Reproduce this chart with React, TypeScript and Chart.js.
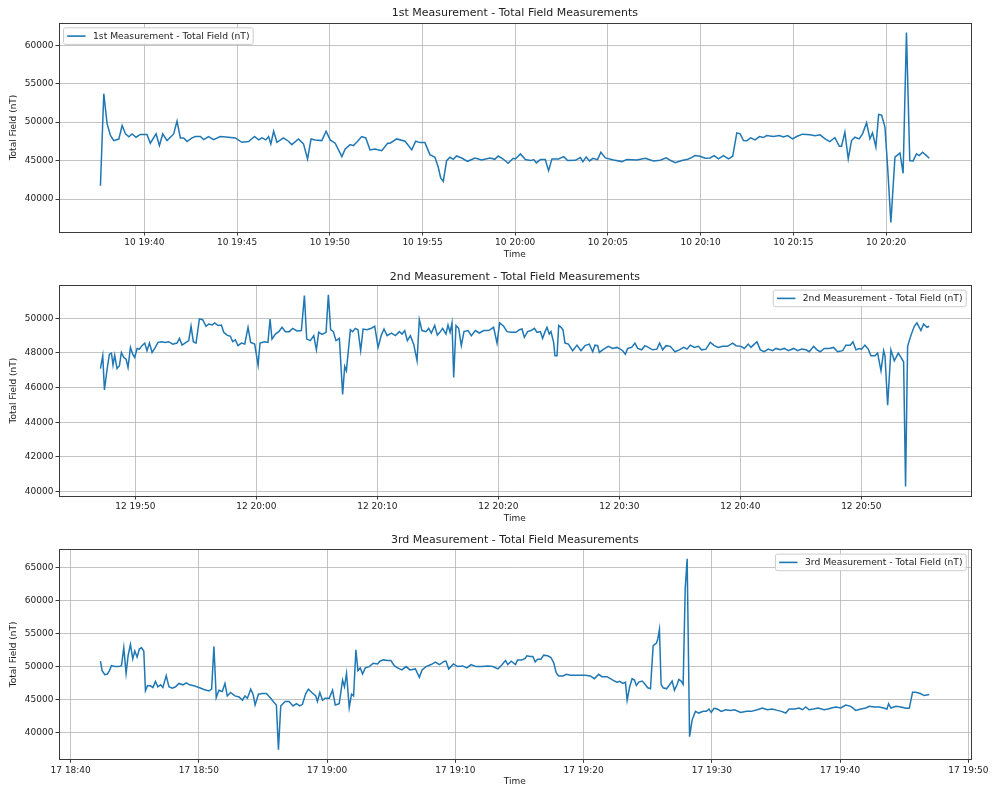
import React, { useEffect, useRef } from 'react';
import { Chart, registerables } from 'chart.js';

Chart.register(...registerables);

// ---------------- data (times in minutes after the hour of reference) ----------------
// Panel 1: minutes after 19:00 on day 10
const P1_T = [37.63,37.81,37.99,38.17,38.35,38.62,38.80,38.98,39.16,39.34,39.55,39.78,40.14,40.32,40.63,40.81,40.99,41.22,41.58,41.76,41.94,42.12,42.30,42.57,42.75,43.02,43.20,43.46,43.73,44.09,44.54,44.90,45.26,45.62,45.94,46.16,46.34,46.55,46.70,46.82,46.97,47.15,47.50,47.77,47.95,48.31,48.58,48.80,48.99,49.21,49.57,49.80,50.02,50.29,50.65,50.83,51.10,51.27,51.45,51.72,51.94,52.17,52.44,52.80,53.12,53.25,53.61,54.06,54.42,54.63,54.87,55.13,55.40,55.67,55.85,55.98,56.12,56.30,56.48,56.66,56.84,57.11,57.43,57.83,58.19,58.64,58.90,59.08,59.35,59.62,59.89,
  60.01,60.28,60.55,60.82,61.00,61.14,61.36,61.62,61.80,61.98,62.34,62.61,62.83,63.24,63.51,63.65,63.83,64.01,64.19,64.44,64.62,64.86,65.31,65.75,66.02,66.56,67.01,67.46,67.82,68.14,68.36,68.63,68.99,69.25,69.43,69.70,69.97,70.24,70.51,70.73,70.96,71.23,71.50,71.73,71.95,72.13,72.31,72.49,72.70,72.94,73.17,73.38,73.56,73.92,74.25,74.46,74.69,74.96,75.18,75.50,75.90,76.17,76.44,76.71,76.97,77.24,77.48,77.60,77.78,77.96,78.14,78.32,78.55,78.73,78.95,79.13,79.27,79.45,79.60,79.76,79.94,80.08,80.26,80.48,80.75,80.92,81.10,81.28,81.46,81.64,81.79,81.97,82.18,82.33];
const P1_NT = [41730,53700,49780,48260,47600,47800,49560,48470,48100,48470,48040,48400,48400,47260,48470,46960,48470,47600,48470,50130,47950,47950,47470,47950,48130,48130,47730,48130,47730,48130,48040,47950,47380,47470,48130,47690,47950,47690,48130,47170,48820,47380,47950,47520,47080,47820,47170,45210,47820,47690,47600,48820,47690,47260,45520,46520,47080,46950,47380,48130,47950,46390,46520,46300,47260,47260,47820,47520,46390,47520,47340,47340,45780,45430,44130,42740,42300,45000,45430,45170,45600,45340,44910,45340,45080,45340,45170,45600,45210,44650,45300,
  45220,45870,45130,45000,45130,44700,45130,45130,43700,45220,45220,45520,45000,45040,45390,44870,45480,44960,45300,45130,46090,45350,45090,44870,45130,45090,45300,44960,45040,45350,45040,44740,45000,45130,45300,45650,45570,45300,45350,45650,45220,45650,45220,45570,48610,48480,47610,47570,47960,47700,48130,48000,48260,48130,48260,48090,48260,47830,48130,48440,48350,48220,48350,47830,47480,48000,46870,46870,48700,45220,47610,48040,47830,48480,49920,47830,48610,46780,51000,50920,49350,44350,36950,45440,46000,43350,61660,45000,44960,45870,45650,46090,45650,45300];

// Panel 2: minutes after 19:00 on day 12
const P2_T = [47.11,47.30,47.44,47.66,47.85,48.02,48.15,48.29,48.48,48.68,48.84,49.04,49.23,49.39,49.59,49.78,49.94,50.14,50.33,50.55,50.77,50.96,51.16,51.38,51.60,51.87,52.15,52.48,52.75,53.09,53.44,53.64,53.86,54.19,54.41,54.60,54.79,55.01,55.29,55.56,55.84,56.06,56.34,56.56,56.83,57.11,57.30,57.58,57.85,58.04,58.26,58.48,58.76,59.04,59.31,59.53,59.86,60.14,60.30,60.69,60.96,61.13,61.29,61.57,61.85,62.12,62.40,62.73,63.00,63.36,63.72,63.97,64.16,64.46,64.74,64.96,65.15,65.43,65.76,65.95,66.14,66.36,66.58,66.86,67.13,67.30,67.44,67.77,67.96,68.18,68.40,68.62,68.82,69.15,69.50,69.78,70.06,70.33,70.55,70.80,71.16,71.49,71.82,72.04,72.26,72.48,72.73,73.00,73.28,73.47,73.69,74.02,74.24,74.46,74.74,74.96,75.21,75.40,75.67,75.84,76.01,76.17,76.31,76.50,76.72,76.94,77.16,77.49,77.77,78.10,78.43,78.79,79.20,79.61,79.89,80.11,80.44,80.72,81.07,81.35,
  81.46,81.74,81.96,82.15,82.42,82.70,82.98,83.20,83.47,83.66,83.86,84.02,84.21,84.35,84.57,84.68,84.85,84.99,85.18,85.34,85.51,85.79,86.14,86.50,86.83,87.16,87.52,87.80,87.99,88.21,88.35,88.71,89.09,89.45,89.81,90.08,90.28,90.50,90.69,91.02,91.29,91.52,91.85,92.12,92.40,92.75,93.11,93.33,93.58,93.86,94.21,94.60,94.96,95.32,95.59,95.87,96.20,96.53,96.80,97.16,97.52,97.85,98.18,98.54,98.95,99.37,99.64,100.06,100.33,100.66,100.88,101.16,101.38,101.65,101.98,102.31,102.67,102.95,103.31,103.64,103.97,104.41,104.74,105.07,105.43,105.70,106.06,106.34,106.61,106.94,107.36,107.71,108.04,108.46,108.73,109.09,109.31,109.56,109.83,110.03,110.30,110.58,110.80,111.13,111.35,111.63,111.85,111.96,112.18,112.45,112.73,113.06,113.28,113.50,113.66,113.83,114.10,114.38,114.60,114.93,115.15,115.43,115.62];
const P2_NT = [47100,47840,45870,47060,47930,47990,47300,47870,47100,47260,48030,47740,47640,47160,48320,47930,47740,48260,48220,48420,48570,48130,48570,48030,48260,48610,48650,48610,48650,48510,48570,48840,48450,48610,48710,49540,48650,48570,49960,49920,49540,49670,49610,49730,49580,49610,49190,49030,48960,48650,48760,48420,48570,48510,49480,48610,48510,47300,48570,48650,48610,49960,48800,49090,49230,49480,49230,49230,49420,49270,49290,51310,48800,48710,49000,48180,49190,49070,49190,51350,49340,49230,48710,48840,45610,47220,46970,49340,49230,49420,49340,48130,49380,49340,49420,49540,48320,49030,49380,49000,49150,49000,49230,49090,49290,48710,49000,48510,47550,49920,49290,49230,49420,49150,49580,49030,49230,49420,49090,49610,49190,49730,46580,49580,49420,48420,49230,49290,49000,49290,49150,49290,49290,49480,48570,49730,49540,49230,49190,49190,
  49190,49340,49380,48900,49230,49290,49420,49190,49230,48840,49230,49480,49090,49230,48610,47840,47840,49580,49480,49340,48570,48510,48130,48450,48130,48420,48510,48070,48450,48420,48030,48220,48380,48260,48320,48220,48130,47930,48260,48320,48570,48260,48180,48420,48320,48180,48220,48570,48180,48420,48380,48070,48180,48320,48220,48450,48320,48380,48180,48220,48610,48420,48320,48380,48380,48570,48420,48380,48260,48510,48320,48510,48650,48180,48070,48220,48130,48260,48180,48260,48130,48260,48130,48220,48180,48070,48380,48180,48070,48260,48260,48320,48070,48130,48450,48450,48650,48180,48260,48220,48450,48220,47840,47840,47990,46970,48130,47840,44980,48180,47550,47990,47740,47490,40300,48380,49000,49540,49730,49290,49670,49480,49540];

// Panel 3: minutes after 18:00 on day 17
const P3_T = [42.32,42.45,42.66,42.86,43.02,43.18,43.44,43.75,43.96,44.14,44.32,44.48,44.66,44.84,45.00,45.18,45.36,45.52,45.70,45.83,45.99,46.22,46.41,46.61,46.80,47.01,47.19,47.45,47.66,47.92,48.18,48.44,48.75,49.01,49.27,49.61,50.00,50.39,50.78,50.99,51.17,51.35,51.56,51.82,52.03,52.21,52.47,52.81,53.13,53.39,53.59,53.78,54.04,54.22,54.38,54.64,54.95,55.26,55.60,55.86,56.04,56.20,56.38,56.72,57.03,57.34,57.60,57.86,58.07,58.33,58.54,58.80,59.11,59.24,59.43,59.64,59.84,60.16,60.42,60.63,60.94,61.20,61.35,61.51,61.72,61.90,62.06,62.24,62.40,62.58,62.76,62.97,63.28,63.59,63.93,64.11,64.38,64.71,64.97,65.23,65.49,65.83,66.15,66.46,66.88,67.19,67.40,67.71,68.10,68.44,68.75,69.14,69.27,69.48,69.84,70.18,70.57,70.89,71.22,71.61,72.08,72.53,72.92,73.31,73.65,73.91,74.09,74.35,74.69,
  74.84,75.18,75.44,75.57,75.83,76.04,76.22,76.41,76.67,76.88,77.19,77.45,77.66,77.86,78.05,78.39,78.65,78.96,79.35,79.74,80.13,80.52,80.83,81.17,81.43,81.82,82.08,82.40,82.60,82.81,83.07,83.26,83.39,83.59,83.78,83.96,84.11,84.30,84.56,84.74,85.00,85.21,85.42,85.68,85.78,85.91,86.04,86.20,86.46,86.72,86.90,87.08,87.29,87.42,87.60,87.76,87.92,88.07,88.26,88.46,88.72,88.98,89.32,89.58,89.77,89.95,90.16,90.42,90.73,91.07,91.46,91.77,92.24,92.71,93.07,93.54,93.93,94.32,94.71,95.10,95.42,95.76,96.02,96.46,96.80,97.06,97.32,97.58,97.92,98.28,98.75,99.06,99.32,99.66,100.05,100.44,100.83,101.22,101.61,102.01,102.27,102.66,103.05,103.39,103.65,103.78,103.96,104.35,104.74,105.13,105.39,105.65,105.91,106.25,106.56,106.95];
const P3_NT = [50820,49390,48770,48870,49390,50150,50000,50000,50150,52870,48980,51690,53380,51180,52360,51430,52720,52870,52360,46310,47080,47080,46820,47750,46930,47230,46820,48620,46930,46720,46930,47440,47230,47540,47230,47080,46820,46520,46310,46570,53070,45290,46410,46210,47440,45540,46060,45540,45390,44880,45540,45180,46570,45800,44160,45800,45900,45900,45180,44520,44160,37350,44010,44680,44680,44010,44370,44010,44260,45900,46570,46060,45540,44680,46060,44880,45180,45180,46410,44160,44370,47950,46930,48980,43750,45800,45540,52560,49390,49800,48870,49800,50000,50510,50410,50820,51020,50920,50920,50150,49800,49490,50000,49490,49640,48360,49490,50000,50310,50670,50310,50820,50820,49640,50410,50000,50100,49800,50310,50000,50000,50100,50000,49640,50310,50920,50310,50820,50310,
  51020,51020,51230,51640,51540,51540,50720,51130,51130,51740,51640,51380,50610,49080,48570,48570,48820,48670,48670,48670,48670,48570,48160,48820,48460,48460,48160,47800,47640,47750,47440,47640,44880,46930,48160,47950,47130,47640,47800,47440,46770,46620,53180,53590,54200,55640,47280,46770,46620,47280,47800,46410,47280,48050,47800,47280,61890,66390,39340,41900,43190,42930,43190,43190,43540,43030,43650,43540,43190,43440,43340,43440,43030,43190,43190,43440,43700,43440,43540,43340,43190,42930,43540,43540,43700,43440,43850,43440,43540,43700,43440,43540,43700,43850,43700,44160,43950,43340,43540,43700,43950,43850,43850,43700,43540,44360,43700,43950,43850,43650,43650,46110,46110,45900,45590,45750];

// tick positions and labels
const P1_XTICKS = [40, 45, 50, 55, 60, 65, 70, 75, 80];
const P1_XLABELS = ['10 19:40', '10 19:45', '10 19:50', '10 19:55', '10 20:00', '10 20:05', '10 20:10', '10 20:15', '10 20:20'];
const P1_YTICKS = [40000, 45000, 50000, 55000, 60000];

const P2_XTICKS = [50, 60, 70, 80, 90, 100, 110];
const P2_XLABELS = ['12 19:50', '12 20:00', '12 20:10', '12 20:20', '12 20:30', '12 20:40', '12 20:50'];
const P2_YTICKS = [40000, 42000, 44000, 46000, 48000, 50000];

const P3_XTICKS = [40, 50, 60, 70, 80, 90, 100, 110];
const P3_XLABELS = ['17 18:40', '17 18:50', '17 19:00', '17 19:10', '17 19:20', '17 19:30', '17 19:40', '17 19:50'];
const P3_YTICKS = [40000, 45000, 50000, 55000, 60000, 65000];

const TITLES = [
  '1st Measurement - Total Field Measurements',
  '2nd Measurement - Total Field Measurements',
  '3rd Measurement - Total Field Measurements',
];
const SERIES_LABELS = [
  '1st Measurement - Total Field (nT)',
  '2nd Measurement - Total Field (nT)',
  '3rd Measurement - Total Field (nT)',
];

// ---------------- styling ----------------
const FONT = "'DejaVu Sans', sans-serif";
const LINE_COLOR = '#1f77b4';
const TEXT_COLOR = '#222';
const GRID_COLOR = 'rgba(176,176,176,0.75)';
const SPINE_COLOR = '#3a3a3a';

type PanelLayout = {
  top: number;
  height: number;
  titlePadTop: number;
  titlePadBottom: number;
  xAxisHeight: number;
  xTitlePadBottom: number;
  legendCorner: 'left' | 'right';
};

type Panel = {
  t: number[];
  v: number[];
  xticks: number[];
  xlabels: string[];
  yticks: number[];
  title: string;
  label: string;
  layout: PanelLayout;
};

const PANELS: Panel[] = [
  {
    t: P1_T, v: P1_NT, xticks: P1_XTICKS, xlabels: P1_XLABELS, yticks: P1_YTICKS,
    title: TITLES[0], label: SERIES_LABELS[0],
    layout: { top: 0, height: 262, titlePadTop: 6.7, titlePadBottom: 3.1, xAxisHeight: 30, xTitlePadBottom: 1.6, legendCorner: 'left' },
  },
  {
    t: P2_T, v: P2_NT, xticks: P2_XTICKS, xlabels: P2_XLABELS, yticks: P2_YTICKS,
    title: TITLES[1], label: SERIES_LABELS[1],
    layout: { top: 262, height: 268, titlePadTop: 8.4, titlePadBottom: 1.7, xAxisHeight: 34, xTitlePadBottom: 5.6, legendCorner: 'right' },
  },
  {
    t: P3_T, v: P3_NT, xticks: P3_XTICKS, xlabels: P3_XLABELS, yticks: P3_YTICKS,
    title: TITLES[2], label: SERIES_LABELS[2],
    layout: { top: 530, height: 257, titlePadTop: 3.4, titlePadBottom: 2.7, xAxisHeight: 27.7, xTitlePadBottom: 0, legendCorner: 'right' },
  },
];

// frame (top/right spines) + matplotlib-like legend box inside the axes
const framePlugin = {
  id: 'mplFrame',
  afterDraw(chart: any, _args: any, opts: any) {
    const { ctx, chartArea: a } = chart;
    ctx.save();
    ctx.strokeStyle = SPINE_COLOR;
    ctx.lineWidth = 1;
    ctx.strokeRect(Math.round(a.left) + 0.5, Math.round(a.top) + 0.5, Math.round(a.right - a.left), Math.round(a.bottom - a.top));

    // legend
    const ds = chart.data.datasets[0];
    const fs = 9.2;
    ctx.font = `${fs}px ${FONT}`;
    const tw = ctx.measureText(ds.label).width;
    const pad = 3.7, hl = 18.4, htp = 7.4;
    const w = pad + hl + htp + tw + pad;
    const h = 16.6;
    const x0 = opts.corner === 'left' ? a.left + 4.5 : a.right - 4.5 - w;
    const y0 = a.top + 4.8;
    const r = 2;
    ctx.beginPath();
    ctx.moveTo(x0 + r, y0);
    ctx.lineTo(x0 + w - r, y0);
    ctx.quadraticCurveTo(x0 + w, y0, x0 + w, y0 + r);
    ctx.lineTo(x0 + w, y0 + h - r);
    ctx.quadraticCurveTo(x0 + w, y0 + h, x0 + w - r, y0 + h);
    ctx.lineTo(x0 + r, y0 + h);
    ctx.quadraticCurveTo(x0, y0 + h, x0, y0 + h - r);
    ctx.lineTo(x0, y0 + r);
    ctx.quadraticCurveTo(x0, y0, x0 + r, y0);
    ctx.closePath();
    ctx.fillStyle = 'rgba(255,255,255,0.85)';
    ctx.fill();
    ctx.strokeStyle = '#cccccc';
    ctx.lineWidth = 1;
    ctx.stroke();
    const yc = y0 + h / 2;
    ctx.beginPath();
    ctx.moveTo(x0 + pad, yc);
    ctx.lineTo(x0 + pad + hl, yc);
    ctx.strokeStyle = LINE_COLOR;
    ctx.lineWidth = 1.6;
    ctx.stroke();
    ctx.fillStyle = TEXT_COLOR;
    ctx.textBaseline = 'middle';
    ctx.textAlign = 'left';
    ctx.fillText(ds.label, x0 + pad + hl + htp, yc + 0.5);
    ctx.restore();
  },
};

function PanelChart({ panel }: { panel: Panel }) {
  const ref = useRef<HTMLCanvasElement | null>(null);

  useEffect(() => {
    if (!ref.current) return;
    const { t, v, xticks, xlabels, yticks, layout } = panel;
    const tMin = Math.min(...t), tMax = Math.max(...t);
    const vMin = Math.min(...v), vMax = Math.max(...v);
    const xm = (tMax - tMin) * 0.05;
    const ym = (vMax - vMin) * 0.05;
    const tickFont = { family: FONT, size: 9 };

    const chart = new Chart(ref.current, {
      type: 'line',
      data: {
        datasets: [
          {
            label: panel.label,
            data: t.map((x, i) => ({ x, y: v[i] })),
            borderColor: LINE_COLOR,
            backgroundColor: LINE_COLOR,
            borderWidth: 1.5,
            pointRadius: 0,
            tension: 0,
            fill: false,
          },
        ],
      },
      options: {
        responsive: false,
        maintainAspectRatio: false,
        animation: false,
        events: [],
        layout: { padding: { left: 0, right: 23.3, top: 0, bottom: 0 } },
        plugins: {
          legend: { display: false },
          tooltip: { enabled: false },
          title: {
            display: true,
            text: panel.title,
            fullSize: false,
            color: TEXT_COLOR,
            font: { family: FONT, size: 11, weight: 'normal', lineHeight: 1.2 },
            padding: { top: layout.titlePadTop, bottom: layout.titlePadBottom },
          },
          mplFrame: { corner: layout.legendCorner },
        } as any,
        scales: {
          x: {
            type: 'linear',
            min: tMin - xm,
            max: tMax + xm,
            afterBuildTicks: (axis: any) => {
              axis.ticks = xticks.map((value) => ({ value }));
            },
            afterFit: (axis: any) => {
              axis.height = layout.xAxisHeight;
              axis.paddingLeft = 0;
              axis.paddingRight = 0;
            },
            ticks: {
              autoSkip: false,
              maxRotation: 0,
              padding: 2,
              color: TEXT_COLOR,
              font: tickFont,
              callback: (_val: any, idx: number) => xlabels[idx],
            },
            grid: { color: GRID_COLOR, lineWidth: 1, drawTicks: true, tickLength: 3.5, tickColor: SPINE_COLOR },
            border: { color: SPINE_COLOR, width: 1 },
            title: {
              display: true,
              text: 'Time',
              color: TEXT_COLOR,
              font: { family: FONT, size: 9, lineHeight: 1.2 },
              padding: { top: 0, bottom: layout.xTitlePadBottom },
            },
          },
          y: {
            type: 'linear',
            min: vMin - ym,
            max: vMax + ym,
            afterBuildTicks: (axis: any) => {
              axis.ticks = yticks.map((value) => ({ value }));
            },
            afterFit: (axis: any) => {
              axis.width = 59;
              axis.paddingTop = 0;
              axis.paddingBottom = 0;
            },
            ticks: {
              autoSkip: false,
              padding: 2,
              color: TEXT_COLOR,
              font: tickFont,
              callback: (val: any) => String(val),
            },
            grid: { color: GRID_COLOR, lineWidth: 1, drawTicks: true, tickLength: 3.5, tickColor: SPINE_COLOR },
            border: { color: SPINE_COLOR, width: 1 },
            title: {
              display: true,
              text: 'Total Field (nT)',
              color: TEXT_COLOR,
              font: { family: FONT, size: 9, lineHeight: 1.2 },
              padding: { top: 7.9, bottom: 0 },
            },
          },
        },
      } as any,
      plugins: [framePlugin],
    });

    return () => chart.destroy();
  }, [panel]);

  return (
    <canvas
      ref={ref}
      width={994}
      height={panel.layout.height}
      style={{ position: 'absolute', left: 0, top: panel.layout.top, width: 994, height: panel.layout.height, display: 'block' }}
    />
  );
}

export default function App() {
  return (
    <div style={{ position: 'absolute', left: 0, top: 0, width: 994, height: 787, background: '#fff', overflow: 'hidden' }}>
      {PANELS.map((p, i) => (
        <PanelChart key={i} panel={p} />
      ))}
    </div>
  );
}
